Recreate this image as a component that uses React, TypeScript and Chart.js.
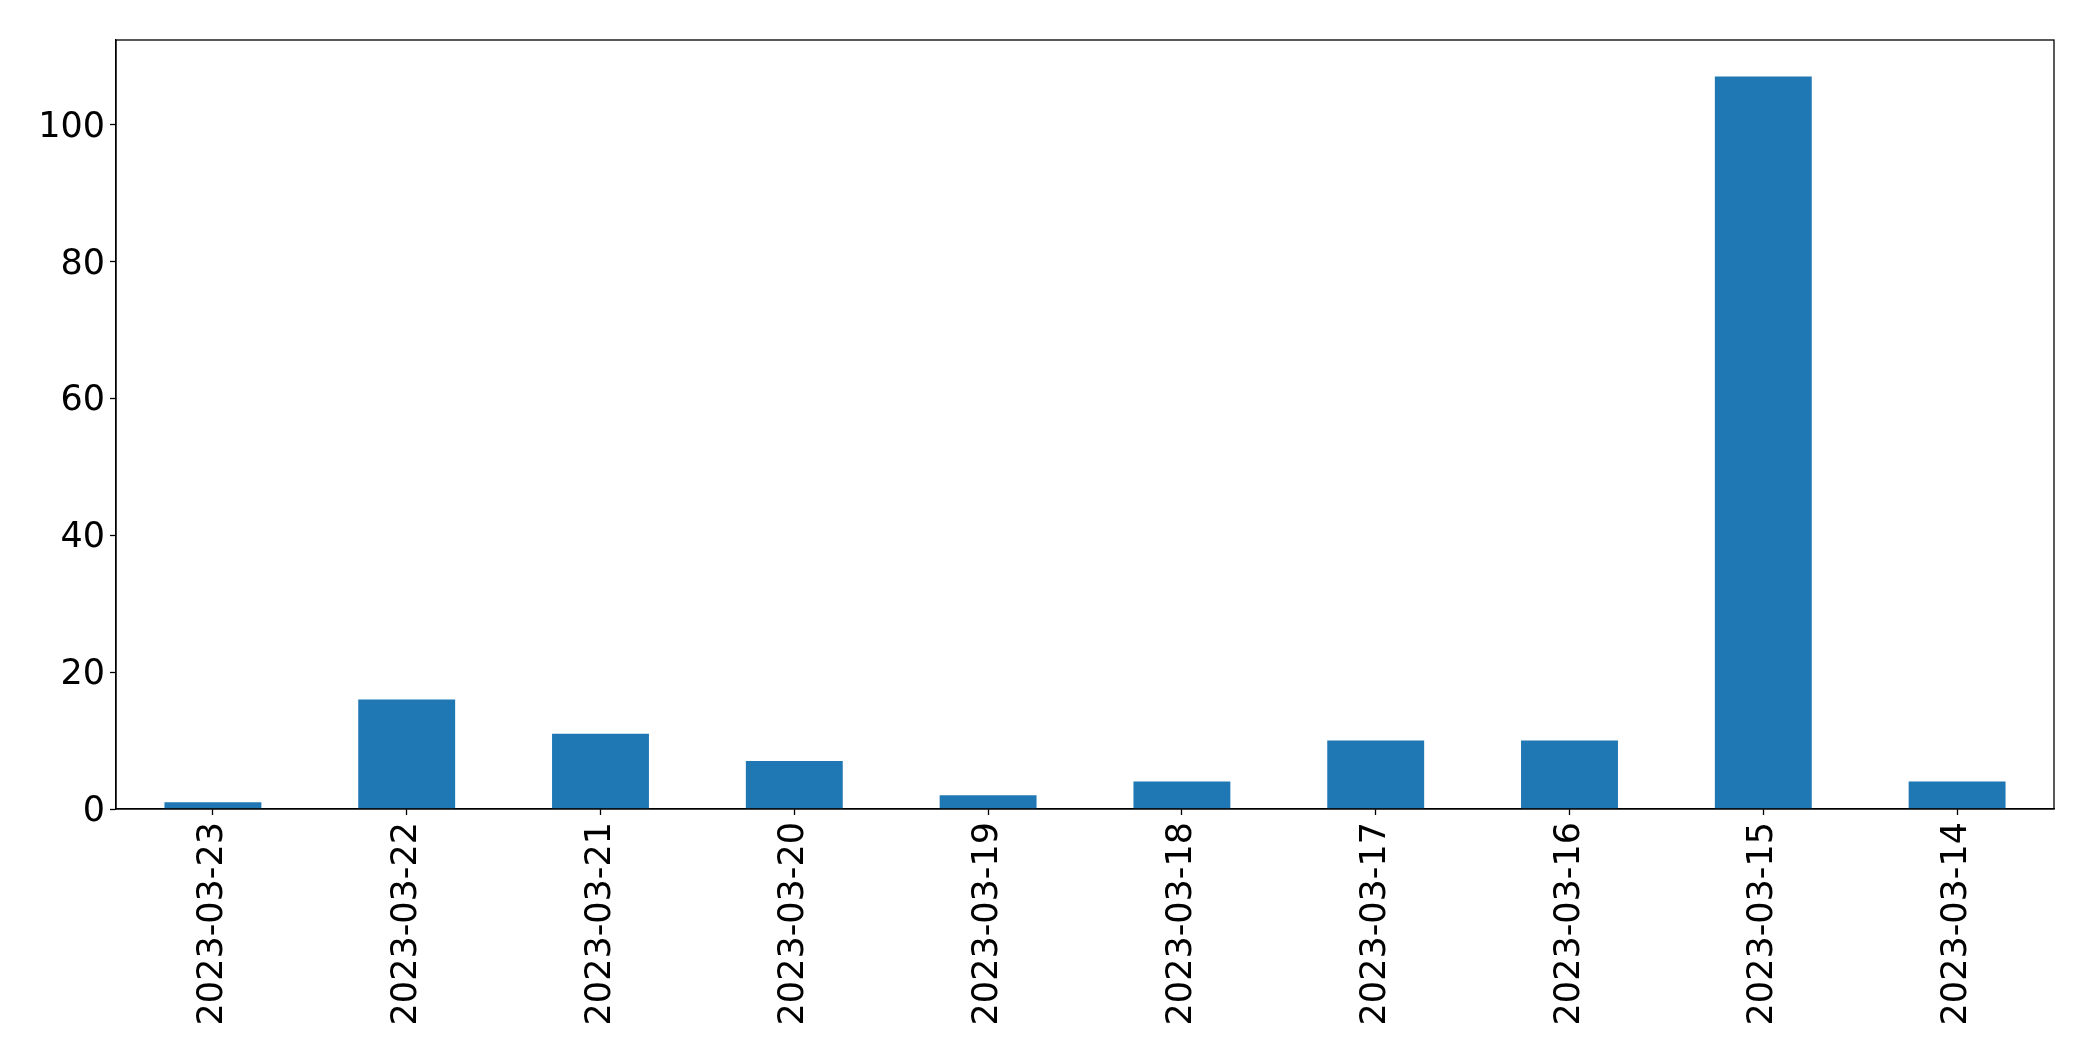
import React, { useEffect, useRef } from "react";
import { Chart, registerables } from "chart.js";

Chart.register(...registerables);

const categories = [
  "2023-03-23",
  "2023-03-22",
  "2023-03-21",
  "2023-03-20",
  "2023-03-19",
  "2023-03-18",
  "2023-03-17",
  "2023-03-16",
  "2023-03-15",
  "2023-03-14",
];
const counts = [1, 16, 11, 7, 2, 4, 10, 10, 107, 4];
const yTicks = [0, 20, 40, 60, 80, 100];

const W = 2093;
const H = 1061;

const framePlugin = {
  id: "frame",
  afterDraw(chart: any) {
    const { ctx, chartArea } = chart;
    ctx.save();
    ctx.strokeStyle = "#000";
    ctx.lineWidth = 1.3;
    ctx.strokeRect(chartArea.left, chartArea.top, chartArea.right - chartArea.left, chartArea.bottom - chartArea.top);
    ctx.restore();
  },
};

export default function App() {
  const ref = useRef<HTMLCanvasElement | null>(null);

  useEffect(() => {
    document.body.style.margin = "0";
    const canvas = ref.current;
    if (!canvas) return;
    const yMax = Math.max(...counts) * 1.05;
    const chart = new Chart(canvas, {
      type: "bar",
      data: {
        labels: categories,
        datasets: [
          {
            data: counts,
            backgroundColor: "#1f77b4",
            borderWidth: 0,
            barPercentage: 0.5,
            categoryPercentage: 1,
          },
        ],
      },
      options: {
        responsive: false,
        animation: false,
        maintainAspectRatio: false,
        layout: { padding: { left: 0, right: 39, top: 40, bottom: 0 } },
        plugins: { legend: { display: false }, tooltip: { enabled: false } },
        scales: {
          x: {
            grid: { display: true, offset: false, drawOnChartArea: false, tickLength: 6, tickColor: "#000", tickWidth: 1.3 },
            border: { display: true, color: "#000", width: 1.3 },
            ticks: {
              color: "#000",
              font: { family: "DejaVu Sans", size: 35 },
              maxRotation: 90,
              minRotation: 90,
              padding: 7,
              autoSkip: false,
            },
            afterFit(scale: any) {
              scale.height = 252;
            },
          },
          y: {
            min: 0,
            max: yMax,
            grid: { display: true, drawOnChartArea: false, tickLength: 6, tickColor: "#000", tickWidth: 1.3 },
            border: { display: true, color: "#000", width: 1.3 },
            afterBuildTicks(scale: any) {
              scale.ticks = yTicks.map((v) => ({ value: v }));
            },
            ticks: {
              color: "#000",
              font: { family: "DejaVu Sans", size: 35 },
              padding: 5,
              labelOffset: 3,
            },
            afterFit(scale: any) {
              scale.width = 116;
            },
          },
        },
      },
      plugins: [framePlugin],
    });
    return () => chart.destroy();
  }, []);

  return (
    <div style={{ width: W, height: H, background: "#fff" }}>
      <canvas ref={ref} width={W} height={H} style={{ display: "block" }} />
    </div>
  );
}
